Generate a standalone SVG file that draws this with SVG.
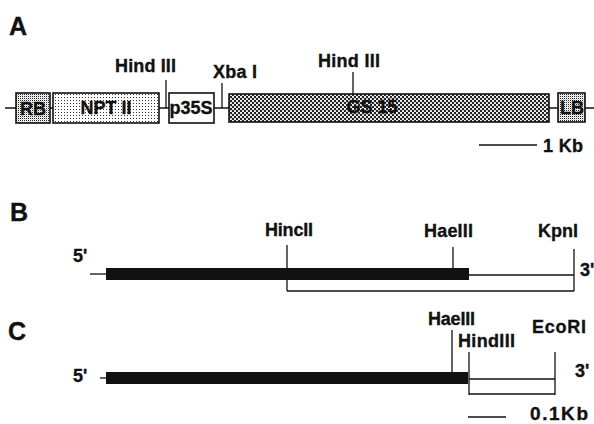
<svg xmlns="http://www.w3.org/2000/svg" width="594" height="424" viewBox="0 0 594 424">
<defs>
<pattern id="sparse" width="3" height="3" patternUnits="userSpaceOnUse"><rect width="3" height="3" fill="#fff"/><rect x="1" y="1" width="1" height="1" fill="#333"/></pattern>
<pattern id="dense" width="2" height="2" patternUnits="userSpaceOnUse"><rect width="2" height="2" fill="#fff"/><rect x="0" y="0" width="1" height="1" fill="#222"/><rect x="1" y="1" width="0.6" height="0.6" fill="#888"/></pattern>
<pattern id="hatch" width="4" height="4" patternUnits="userSpaceOnUse"><rect width="4" height="4" fill="#222"/><circle cx="1" cy="1" r="1.1" fill="#fff"/><circle cx="3" cy="3" r="1.1" fill="#fff"/></pattern>
</defs>
<style>
text{font-family:"Liberation Sans",Arial,sans-serif;font-weight:bold;fill:#111;stroke:#111;stroke-width:0.35;font-size:18px}
.big{font-size:25px}
.mid{text-anchor:middle}
.ln{stroke:#111;stroke-width:1.3;fill:none}
.box{stroke:#111;stroke-width:1.6}
.bar{fill:#111}
</style>
<rect width="594" height="424" fill="#fff"/>

<!-- Panel labels -->
<text class="big" x="9" y="35">A</text>
<text class="big" x="10" y="221">B</text>
<text class="big" x="8" y="340">C</text>

<!-- connectors -->
<g id="connectors">
<line class="ln" x1="5" y1="108" x2="594" y2="108"/>
<line class="ln" x1="166" y1="80" x2="166" y2="108"/>
<line class="ln" x1="222" y1="83" x2="222" y2="108"/>
<line class="ln" x1="353" y1="72" x2="353" y2="94"/>
<line class="ln" x1="479" y1="145" x2="537" y2="145"/>

<line class="ln" x1="90" y1="274" x2="106" y2="274"/>
<line class="ln" x1="469" y1="275" x2="574" y2="275"/>
<line class="ln" x1="574" y1="249" x2="574" y2="291"/>
<line class="ln" x1="287" y1="245" x2="287" y2="291"/>
<line class="ln" x1="287" y1="291" x2="574" y2="291"/>
<line class="ln" x1="453" y1="247" x2="453" y2="268"/>

<line class="ln" x1="100" y1="378" x2="106" y2="378"/>
<line class="ln" x1="452" y1="330" x2="452" y2="372"/>
<line class="ln" x1="469" y1="352" x2="469" y2="395"/>
<line class="ln" x1="469" y1="379" x2="555" y2="379"/>
<line class="ln" x1="555" y1="352" x2="555" y2="395"/>
<line class="ln" x1="469" y1="394" x2="555" y2="394"/>
<line class="ln" x1="468" y1="417" x2="506" y2="417"/>
</g>

<!-- Panel A nodes -->
<g id="RB"><rect class="box" x="16" y="93" width="34" height="30" fill="url(#dense)"/><text class="mid" x="33" y="115">RB</text></g>
<g id="NPTII"><rect class="box" x="53" y="93" width="106" height="30" fill="url(#sparse)"/><text class="mid" x="106" y="114">NPT II</text></g>
<g id="p35S"><rect class="box" x="169" y="93" width="45" height="30" fill="#fff"/><text class="mid" x="191" y="114">p35S</text></g>
<g id="GS15"><rect class="box" x="229" y="94" width="320" height="28" fill="url(#hatch)"/><text class="mid" x="372" y="113">GS 15</text></g>
<g id="LB"><rect class="box" x="558" y="93" width="27" height="29" fill="url(#dense)"/><text class="mid" x="572" y="114">LB</text></g>

<g id="siteA1"><text x="115" y="72" textLength="61">Hind III</text></g>
<g id="siteA2"><text x="213" y="78" textLength="44">Xba I</text></g>
<g id="siteA3"><text x="318" y="67" textLength="62">Hind III</text></g>
<g id="scaleA"><text x="543" y="152" textLength="40">1 Kb</text></g>

<!-- Panel B -->
<g id="barB"><rect class="bar" x="106" y="268" width="363" height="12"/></g>
<g id="labelsB">
<text x="73" y="262">5'</text>
<text x="265" y="236" textLength="48">HincII</text>
<text x="424" y="237" textLength="49">HaeIII</text>
<text x="538" y="237" textLength="40">KpnI</text>
<text x="580" y="276">3'</text>
</g>

<!-- Panel C -->
<g id="barC"><rect class="bar" x="106" y="372" width="362" height="12"/></g>
<g id="labelsC">
<text x="73" y="382">5'</text>
<text x="428" y="325" textLength="47">HaeIII</text>
<text x="458" y="347" textLength="57">HindIII</text>
<text x="532" y="333" textLength="54">EcoRI</text>
<text x="575" y="377">3'</text>
<text x="530" y="420" style="font-size:19px" textLength="58">0.1Kb</text>
</g>
</svg>
